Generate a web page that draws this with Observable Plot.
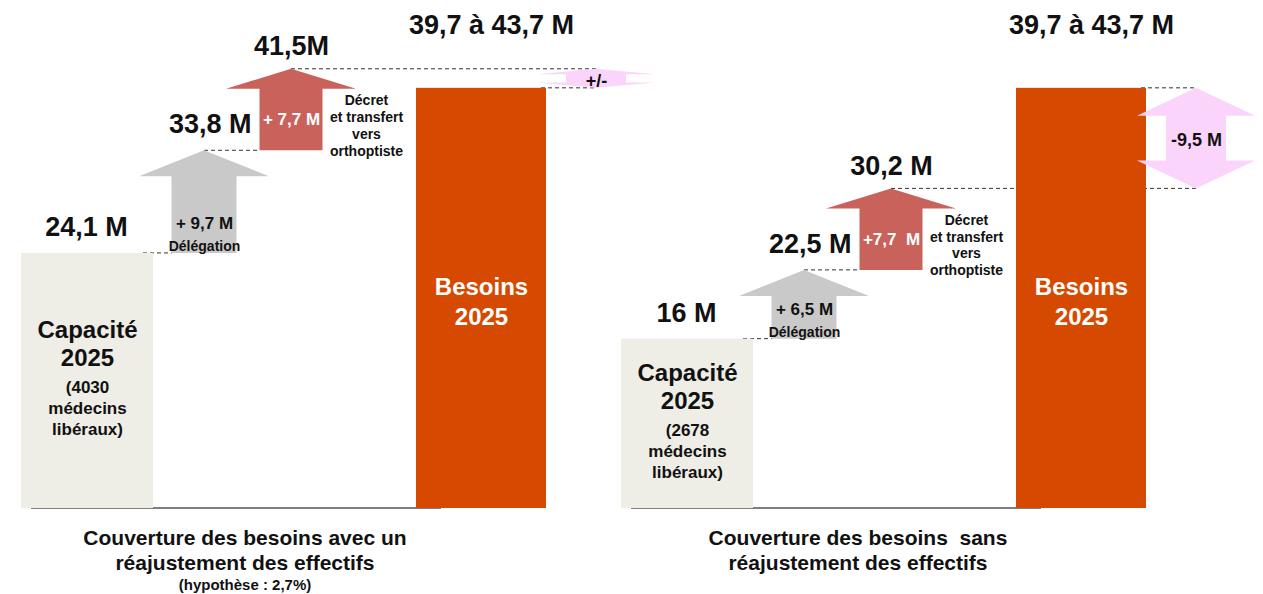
<!DOCTYPE html>
<html>
<head>
<meta charset="utf-8">
<script src="https://cdn.jsdelivr.net/npm/d3@7"></script>
<script src="https://cdn.jsdelivr.net/npm/@observablehq/plot@0.6"></script>
<style>
  body { margin: 0; background: #fff; font-family: "Liberation Sans", Arial, Helvetica, sans-serif; }
  #wrap { position: relative; width: 1263px; height: 594px; overflow: hidden; }
  .cap { position: absolute; width: 420px; text-align: center; font-weight: bold; color: #111; white-space: pre; }
</style>
</head>
<body>
<div id="wrap"><div id="chart"></div></div>
<script>
// ---- data ----
const panels = ["avec", "sans"];
const steps = ["Capacité", "Délégation", "Décret", "", "Besoins", "Écart"];
const capaciteValues = [24.1, 16];
const medecins = [4030, 2678];
const delegationValues = [9.7, 6.5];
const decretValues = [7.7, 7.7];
const besoinsMin = [39.7, 39.7];
const besoinsMax = [43.7, 43.7];
const totalLabels = [["24,1 M", "33,8 M", "41,5M"], ["16 M", "22,5 M", "30,2 M"]];
const deltaLabels = [["+ 9,7 M", "+ 7,7 M"], ["+ 6,5 M", "+7,7  M"]];
const besoinsLabels = ["39,7 à 43,7 M", "39,7 à 43,7 M"];
const ecartLabels = ["+/-", "-9,5 M"];
const captions = [
  ["Couverture des besoins avec un", "réajustement des effectifs", "(hypothèse : 2,7%)"],
  ["Couverture des besoins  sans", "réajustement des effectifs"]
];

// ---- derived rows ----
const K = (p, s) => `${p}|${s}`;
const keys = panels.flatMap(p => steps.map(s => K(p, s)));
const totals = panels.map((p, i) => {
  const t0 = capaciteValues[i];
  const t1 = t0 + delegationValues[i];
  const t2 = t1 + decretValues[i];
  return [t0, t1, t2];
});
const capRows = panels.map((p, i) => ({key: K(p, "Capacité"), value: capaciteValues[i], medecins: medecins[i], label: totalLabels[i][0]}));
const besRows = panels.map((p, i) => ({key: K(p, "Besoins"), value: besoinsMin[i], max: besoinsMax[i], label: besoinsLabels[i]}));
const delRows = panels.map((p, i) => ({key: K(p, "Délégation"), next: K(p, "Décret"), from: totals[i][0], to: totals[i][1], label: deltaLabels[i][0], total: totalLabels[i][1]}));
const decRows = panels.map((p, i) => ({key: K(p, "Décret"), from: totals[i][1], to: totals[i][2], label: deltaLabels[i][1], total: totalLabels[i][2]}));
const ecartRows = panels.map((p, i) => ({key: K(p, "Écart"), from: totals[i][2], to: besoinsMin[i], label: ecartLabels[i]}));

const INK = "#111";
const bw = s => (typeof s.bandwidth === "function" ? s.bandwidth() : 0);

function upArrows(rows, {fill, shaft, head, headLen, dx = 0}) {
  return (index, scales) => {
    const x = scales.x, y = scales.y, b = bw(x);
    const g = d3.create("svg:g").attr("fill", fill);
    for (const r of rows) {
      const cx = x(r.key) + b / 2 + dx;
      const yb = y(r.from), yt = y(r.to);
      const hl = Math.min(headLen, Math.abs(yb - yt) * 0.6);
      const yn = yt + hl;
      g.append("path").attr("d",
        `M${cx - shaft / 2},${yb}L${cx - shaft / 2},${yn}L${cx - head / 2},${yn}L${cx},${yt}` +
        `L${cx + head / 2},${yn}L${cx + shaft / 2},${yn}L${cx + shaft / 2},${yb}Z`);
    }
    return g.node();
  };
}

function doubleArrows(rows, {fill, shaft, head, headLen, dx = 0}) {
  return (index, scales) => {
    const x = scales.x, y = scales.y, b = bw(x);
    const g = d3.create("svg:g").attr("fill", fill);
    for (const r of rows) {
      const cx = x(r.key) + b / 2 + dx;
      const yt = Math.min(y(r.from), y(r.to)), yb = Math.max(y(r.from), y(r.to));
      const hl = Math.min(headLen, (yb - yt) * 0.28);
      g.append("path").attr("d",
        `M${cx},${yt}L${cx + head / 2},${yt + hl}L${cx + shaft / 2},${yt + hl}L${cx + shaft / 2},${yb - hl}` +
        `L${cx + head / 2},${yb - hl}L${cx},${yb}L${cx - head / 2},${yb - hl}L${cx - shaft / 2},${yb - hl}` +
        `L${cx - shaft / 2},${yt + hl}L${cx - head / 2},${yt + hl}Z`);
    }
    return g.node();
  };
}

function guides(index, scales) {
  const x = scales.x, y = scales.y, b = bw(x);
  const c = k => x(k) + b / 2;
  const g = d3.create("svg:g").attr("fill", "none");
  const dash = g.append("g").attr("stroke", "#333").attr("stroke-width", 1).attr("stroke-dasharray", "4,3");
  const seg = (x1, x2, v) => dash.append("line").attr("x1", x1).attr("x2", x2).attr("y1", y(v)).attr("y2", y(v));
  panels.forEach((p, i) => {
    const [t0, t1, t2] = totals[i];
    seg(x(K(p, "Capacité")) + b + 2, c(K(p, "Délégation")) + 13 - 32, t0);
    seg(c(K(p, "Délégation")) + 13, c(K(p, "Décret")) - 31, t1);
    seg(c(K(p, "Décret")), c(K(p, "Écart")) + 5, t2);
    seg(x(K(p, "Besoins")) + b, c(K(p, "Écart")) + 5, besoinsMin[i]);
    g.append("line").attr("stroke", "#555").attr("stroke-width", 1.5)
      .attr("x1", x(K(p, "Capacité")) - 10).attr("x2", x(K(p, "Besoins")))
      .attr("y1", y(0)).attr("y2", y(0));
  });
  return g.node();
}

const bold = {fontWeight: "bold", fill: INK};

const chart = Plot.plot({
  width: 1263,
  height: 520,
  marginLeft: 37,
  marginRight: 19,
  marginTop: 0,
  marginBottom: 12,
  x: {type: "band", domain: keys, padding: 0, axis: null},
  y: {domain: [0, 48], axis: null},
  style: {fontFamily: '"Liberation Sans", Arial, Helvetica, sans-serif', overflow: "visible", background: "white"},
  marks: [
    guides,
    Plot.barY(capRows, {x: "key", y: "value", fill: "#EEEDE6", insetLeft: -20, insetRight: -12}),
    Plot.barY(besRows, {x: "key", y: "value", fill: "#D54A00", insetLeft: -25, insetRight: -5}),
    upArrows(delRows, {fill: "#C9C9C9", shaft: 65, head: 130, headLen: 26, dx: 13}),
    upArrows(decRows, {fill: "#C9625B", shaft: 63, head: 130, headLen: 20}),
    doubleArrows(ecartRows, {fill: "#FAD4FA", shaft: 60, head: 118, headLen: 28, dx: 5}),

    // Capacité labels inside bar
    Plot.text(capRows, {x: "key", y: d => d.value / 2, text: () => "Capacité\n2025", dx: -4, dy: -38, fontSize: 24, lineHeight: 1.17, ...bold}),
    Plot.text(capRows, {x: "key", y: d => d.value / 2, text: d => `(${d.medecins}\nmédecins\nlibéraux)`, dx: -4, dy: 26, fontSize: 17, lineHeight: 1.24, ...bold}),
    // Besoins labels inside bar
    Plot.text(besRows, {x: "key", y: d => d.value / 2, text: () => "Besoins\n2025", dx: -10, dy: 2, fontSize: 24, lineHeight: 1.25, fontWeight: "bold", fill: "white"}),

    // totals
    Plot.text(capRows, {x: "key", y: "value", text: "label", dx: -5, dy: -26, fontSize: 27, ...bold}),
    Plot.text(delRows, {x: "next", y: "to", text: "total", textAnchor: "end", dx: -40, dy: -26, fontSize: 27, ...bold}),
    Plot.text(decRows, {x: "key", y: "to", text: "total", dy: -23, fontSize: 27, ...bold}),
    Plot.text(besRows, {x: "key", y: "max", text: "label", dy: -21, fontSize: 27, ...bold}),

    // arrow labels
    Plot.text(delRows, {x: "key", y: "from", text: "label", dx: 13, dy: -30, fontSize: 17, ...bold}),
    Plot.text(delRows, {x: "key", y: "from", text: () => "Délégation", dx: 13, dy: -7, fontSize: 14, ...bold}),
    Plot.text(decRows, {x: "key", y: "from", text: "label", dy: -31, fontSize: 17, fontWeight: "bold", fill: "white"}),
    Plot.text(decRows, {x: "key", y: "to", text: () => "Décret\net transfert\nvers\northoptiste", dx: 75, dy: 24, lineAnchor: "top", lineHeight: 1.2, fontSize: 14, ...bold}),
    Plot.text(ecartRows, {x: "key", y: d => (d.from + d.to) / 2, text: "label", dx: 5, dy: 2, fontSize: 18, ...bold})
  ]
});
document.getElementById("chart").appendChild(chart);

// captions under each panel
const wrap = document.getElementById("wrap");
const captionCenters = [245, 858];
captions.forEach((lines, i) => {
  lines.forEach((line, j) => {
    const d = document.createElement("div");
    d.className = "cap";
    d.textContent = line;
    const small = j === 2;
    d.style.left = (captionCenters[i] - 210) + "px";
    d.style.top = (small ? 576 : 525 + j * 25) + "px";
    d.style.fontSize = small ? "15px" : "21px";
    d.style.lineHeight = small ? "18px" : "25px";
    wrap.appendChild(d);
  });
});
</script>
</body>
</html>
